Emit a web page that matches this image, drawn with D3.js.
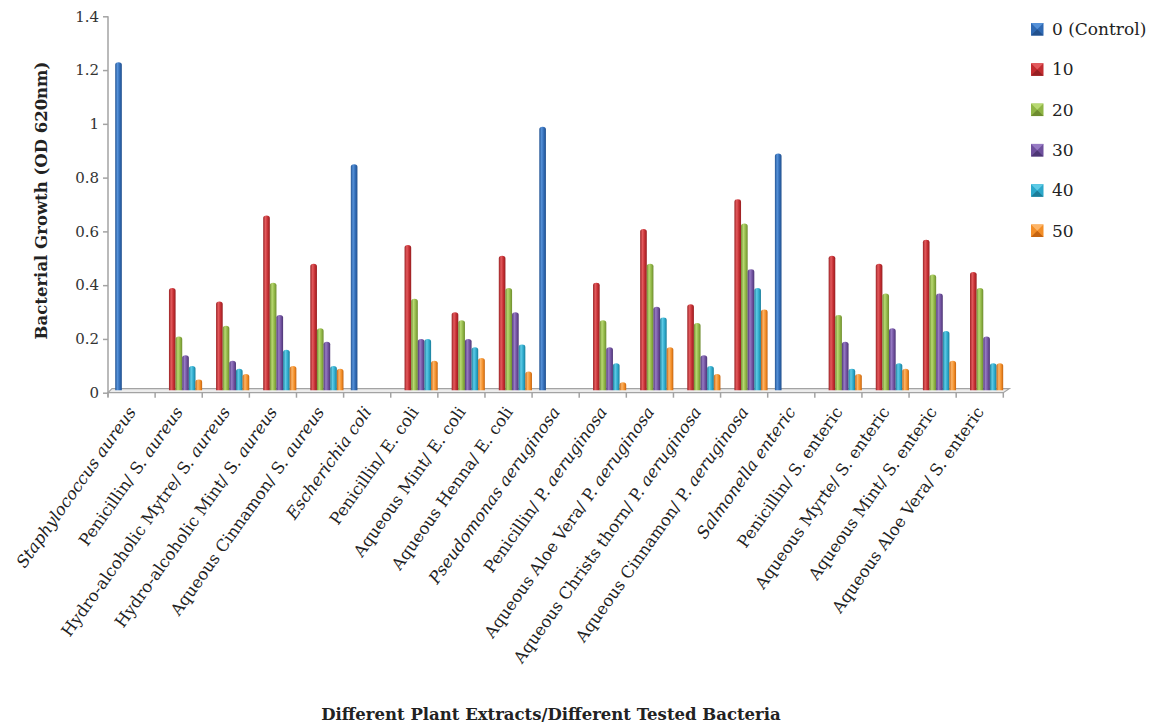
<!DOCTYPE html>
<html>
<head>
<meta charset="utf-8">
<script src="https://cdn.jsdelivr.net/npm/d3@7/dist/d3.min.js"></script>
<style>
  html, body { margin: 0; padding: 0; background: #fff; }
  svg { display: block; }
</style>
</head>
<body>
<svg id="chart" width="1158" height="725"></svg>
<script>
// Bacterial growth (OD 620 nm) per plant extract / bacterium at each concentration
const categories = [
  "Staphylococcus aureus",
  "Penicillin/ S. aureus",
  "Hydro-alcoholic Mytre/ S. aureus",
  "Hydro-alcoholic  Mint/ S. aureus",
  "Aqueous Cinnamon/ S. aureus",
  "Escherichia coli",
  "Penicillin/ E. coli",
  "Aqueous Mint/ E. coli",
  "Aqueous Henna/ E. coli",
  "Pseudomonas aeruginosa",
  "Penicillin/ P. aeruginosa",
  "Aqueous Aloe Vera/ P. aeruginosa",
  "Aqueous Christs thorn/ P. aeruginosa",
  "Aqueous Cinnamon/ P. aeruginosa",
  "Salmonella enteric",
  "Penicillin/ S. enteric",
  "Aqueous Myrte/ S. enteric",
  "Aqueous Mint/ S. enteric",
  "Aqueous Aloe Vera/ S. enteric"
];
const italicWords = ["aureus", "aeruginosa"];

const seriesNames = ["0 (Control)", "10", "20", "30", "40", "50"];

const control = [1.22, 0, 0, 0, 0, 0.84, 0, 0, 0, 0.98, 0, 0, 0, 0, 0.88, 0, 0, 0, 0];
const conc10  = [0, 0.38, 0.33, 0.65, 0.47, 0, 0.54, 0.29, 0.50, 0, 0.40, 0.60, 0.32, 0.71, 0, 0.50, 0.47, 0.56, 0.44];
const conc20  = [0, 0.20, 0.24, 0.40, 0.23, 0, 0.34, 0.26, 0.38, 0, 0.26, 0.47, 0.25, 0.62, 0, 0.28, 0.36, 0.43, 0.38];
const conc30  = [0, 0.13, 0.11, 0.28, 0.18, 0, 0.19, 0.19, 0.29, 0, 0.16, 0.31, 0.13, 0.45, 0, 0.18, 0.23, 0.36, 0.20];
const conc40  = [0, 0.09, 0.08, 0.15, 0.09, 0, 0.19, 0.16, 0.17, 0, 0.10, 0.27, 0.09, 0.38, 0, 0.08, 0.10, 0.22, 0.10];
const conc50  = [0, 0.04, 0.06, 0.09, 0.08, 0, 0.11, 0.12, 0.07, 0, 0.03, 0.16, 0.06, 0.30, 0, 0.06, 0.08, 0.11, 0.10];
const seriesValues = [control, conc10, conc20, conc30, conc40, conc50];

const yTicks = [0, 0.2, 0.4, 0.6, 0.8, 1, 1.2, 1.4];
const yTickLabels = ["0", "0.2", "0.4", "0.6", "0.8", "1", "1.2", "1.4"];

// colour ramps: dark edge, highlight, body, dark edge (cylinder shading)
const palette = [
  ["#245594", "#5591d8", "#2f69b3", "#22508c"],
  ["#9a2124", "#e35a5d", "#c22c30", "#961f22"],
  ["#718f30", "#b8d972", "#8fb545", "#6e8c2f"],
  ["#4f3778", "#977bc4", "#6f509d", "#4d3675"],
  ["#1d809d", "#5ecbe6", "#2ca8ca", "#1b7d99"],
  ["#c86610", "#fdb568", "#f38e27", "#c56410"]
];

const svg = d3.select("#chart");
const defs = svg.append("defs");
palette.forEach((c, i) => {
  const g = defs.append("linearGradient").attr("id", "bar" + i)
    .attr("x1", "0%").attr("x2", "100%").attr("y1", "0%").attr("y2", "0%");
  g.append("stop").attr("offset", "0%").attr("stop-color", c[0]);
  g.append("stop").attr("offset", "35%").attr("stop-color", c[1]);
  g.append("stop").attr("offset", "70%").attr("stop-color", c[2]);
  g.append("stop").attr("offset", "100%").attr("stop-color", c[3]);
});

const x0 = d3.scaleBand().domain(categories).range([108, 1003.3]).paddingInner(0).paddingOuter(0);
const x1 = d3.scaleBand().domain(d3.range(seriesNames.length)).range([7.2, 47]);
const y = d3.scaleLinear().domain([0, 1.4]).range([392.7, 16.3]);
const depthX = 4, depthY = 4;
const axisColor = "#a3a3a3";

// floor of the plot
const fx0 = x0.range()[0], fx1 = x0.range()[1], fy = y(0);
svg.append("polygon")
  .attr("points", [[fx0, fy], [fx1, fy], [fx1 + depthX + 2, fy - depthY], [fx0 + depthX, fy - depthY]].join(" "))
  .attr("fill", "#ececec").attr("stroke", axisColor).attr("stroke-width", 1.2);

// y axis
const yAxis = d3.axisLeft(y).tickValues(yTicks).tickFormat((d, i) => yTickLabels[i])
  .tickSizeInner(5).tickSizeOuter(0).tickPadding(4);
const gy = svg.append("g").attr("transform", "translate(108,0)").call(yAxis);
gy.select(".domain").attr("stroke", axisColor).attr("stroke-width", 1.5);
gy.selectAll(".tick line").attr("stroke", axisColor).attr("stroke-width", 1.5);
gy.selectAll(".tick text").attr("font-family", "DejaVu Serif").attr("font-size", 15).attr("fill", "#333");
gy.select(".domain").attr("d", `M0,${y(1.4)}V${y(0) + 4}`);

// category boundary ticks
const bounds = categories.map(c => x0(c)).concat([x0.range()[1]]);
svg.append("g").selectAll("line").data(bounds).join("line")
  .attr("x1", d => d).attr("x2", d => d)
  .attr("y1", y(0)).attr("y2", y(0) + 5)
  .attr("stroke", axisColor).attr("stroke-width", 1.5);

// bars
const barBase = -2.5;
const bars = svg.append("g").attr("transform", `translate(0,${barBase})`);
seriesValues.forEach((vals, si) => {
  bars.append("g").selectAll("path")
    .data(vals.map((v, ci) => ({ v, c: categories[ci] })).filter(d => d.v > 0))
    .join("path")
    .attr("d", d => {
      const w = x1.bandwidth();
      const bx = x0(d.c) + x1(si);
      const top = y(d.v), base = y(0);
      const r = w / 2, ry = 2.5;
      return `M${bx},${base}V${top + ry}A${r},${ry} 0 0 1 ${bx + w},${top + ry}V${base}Z`;
    })
    .attr("fill", `url(#bar${si})`);
});

// category labels
const labels = svg.append("g");
categories.forEach(c => {
  const cx = x0(c) + x0.bandwidth() / 2 + 5;
  const t = labels.append("text")
    .attr("transform", `translate(${cx},412) rotate(-54.5)`)
    .attr("text-anchor", "end")
    .attr("font-family", "DejaVu Serif").attr("font-size", 16.5).attr("fill", "#222");
  const whole = c.indexOf("/") < 0;
  const parts = c.split(/(\s+)/);
  parts.forEach(p => {
    if (p === "") return;
    const it = whole || italicWords.includes(p);
    t.append("tspan").attr("font-style", it ? "italic" : "normal").text(p);
  });
});

// axis titles
svg.append("text")
  .attr("transform", `translate(47,${(y(0) + y(1.4)) / 2 - 4}) rotate(-90)`)
  .attr("text-anchor", "middle")
  .attr("font-family", "DejaVu Serif").attr("font-weight", "bold").attr("font-size", 16.5)
  .attr("fill", "#222").text("Bacterial Growth (OD 620nm)");

svg.append("text")
  .attr("x", 551).attr("y", 720)
  .attr("text-anchor", "middle")
  .attr("font-family", "DejaVu Serif").attr("font-weight", "bold").attr("font-size", 16.5)
  .attr("fill", "#222").text("Different Plant Extracts/Different Tested Bacteria");

// legend
const legend = svg.append("g").attr("transform", "translate(1031,23)");
seriesNames.forEach((name, i) => {
  const g = legend.append("g").attr("transform", `translate(0,${i * 40.3})`);
  const s = 12.5, c = palette[i];
  g.append("rect").attr("width", s).attr("height", s).attr("fill", c[2]);
  g.append("polygon").attr("points", `0,${s} ${s},${s} ${s / 2},${s / 2}`).attr("fill", c[3]);
  g.append("polygon").attr("points", `0,0 ${s},0 ${s / 2},${s / 2}`).attr("fill", c[1]);
  g.append("text").attr("x", 21).attr("y", s - 0.5)
    .attr("font-family", "DejaVu Serif").attr("font-size", 17).attr("fill", "#222").text(name);
});
</script>
</body>
</html>
